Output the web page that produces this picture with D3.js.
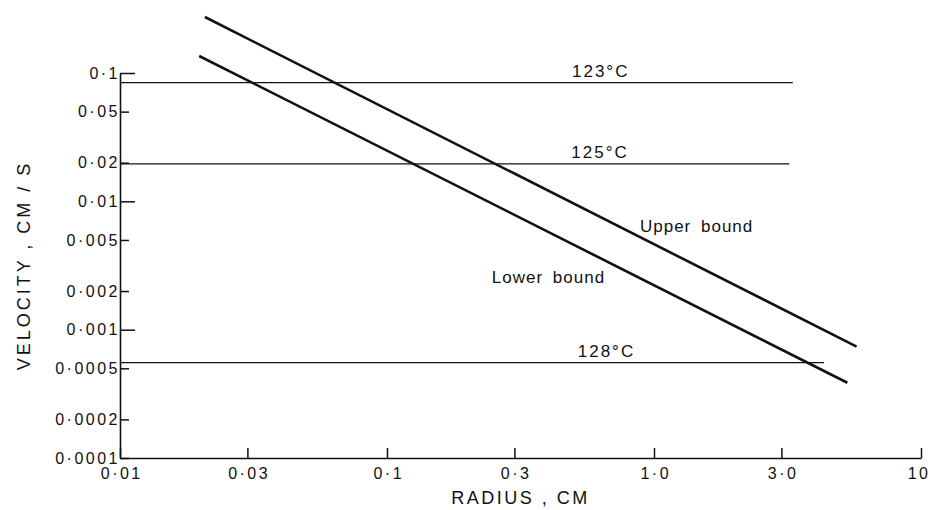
<!DOCTYPE html>
<html>
<head>
<meta charset="utf-8">
<script src="https://cdn.jsdelivr.net/npm/d3@7/dist/d3.min.js"></script>
<style>
  html, body { margin: 0; padding: 0; background: #fff; }
  svg { display: block; }
  text { font-family: "Liberation Sans", Arial, sans-serif; fill: #111; }
</style>
</head>
<body>
<svg id="chart" width="930" height="510"></svg>
<script>
// Radius (cm) and velocity (cm/s) on log–log axes
const xTickValues = [0.01, 0.03, 0.1, 0.3, 1, 3, 10];
const xTickLabels = ["0·01", "0·03", "0·1", "0·3", "1·0", "3·0", "10"];
const yTickValues = [0.1, 0.05, 0.02, 0.01, 0.005, 0.002, 0.001, 0.0005, 0.0002, 0.0001];
const yTickLabels = ["0·1", "0·05", "0·02", "0·01", "0·005", "0·002", "0·001", "0·0005", "0·0002", "0·0001"];
const yMajorTicks = [0.1, 0.01, 0.001];

// Bounds on velocity as a function of radius: [radius, velocity]
const upperBound = [[0.0208, 0.273], [5.74, 0.000737]];
const lowerBound = [[0.0198, 0.1357], [5.30, 0.000386]];

// Isotherms: constant velocity from the left edge to an end radius
const isoNames = ["123°C", "125°C", "128°C"];
const isoVelocity = [0.0840, 0.0196, 0.000553];
const isoEndRadius = [3.31, 3.21, 4.33];
const isoLabelRadius = [0.493, 0.49, 0.518];

// Line labels: [radius, velocity] anchor
const boundNames = ["Upper bound", "Lower bound"];
const boundLabelAt = [[0.886, 0.00577], [0.247, 0.00232]];

const svg = d3.select("#chart");

const x = d3.scaleLog().domain([0.01, 10]).range([120, 921]);
const y = d3.scaleLog().domain([0.0001, 0.1]).range([458, 73]);

const tickFont = 16;

// Axes
const xAxis = d3.axisBottom(x)
  .tickValues(xTickValues)
  .tickFormat((d, i) => xTickLabels[i])
  .tickSizeInner(-10).tickSizeOuter(0).tickPadding(10);

const gx = svg.append("g")
  .attr("transform", `translate(0,${y(0.0001)})`)
  .call(xAxis);
gx.select(".domain").attr("stroke", "#111").attr("stroke-width", 1.6);
gx.selectAll(".tick line").attr("stroke", "#111").attr("stroke-width", 1.5);
gx.selectAll(".tick text")
  .attr("font-size", tickFont)
  .attr("letter-spacing", "2.5px")
  .attr("dx", "1.25px")
  .style("font-family", "'Liberation Sans', Arial, sans-serif");
// the last label sits against the right edge
gx.selectAll(".tick text")
  .filter(d => d === 10)
  .attr("text-anchor", "end")
  .attr("dx", "9px");

const yAxis = d3.axisLeft(y)
  .tickValues(yTickValues)
  .tickFormat((d, i) => yTickLabels[i])
  .tickSizeInner(-9).tickSizeOuter(0).tickPadding(0);

const gy = svg.append("g")
  .attr("transform", `translate(${x(0.01)},0)`)
  .call(yAxis);
gy.select(".domain").attr("stroke", "#111").attr("stroke-width", 1.6);
gy.selectAll(".tick line")
  .attr("stroke", "#111").attr("stroke-width", 1.5)
  .attr("x2", d => yMajorTicks.includes(d) ? 15 : 9);
gy.selectAll(".tick text")
  .attr("font-size", tickFont)
  .attr("letter-spacing", "2.5px")
  .attr("x", 0)
  .style("font-family", "'Liberation Sans', Arial, sans-serif");

// Isotherm lines
const iso = isoNames.map((name, i) => ({
  name, v: isoVelocity[i], end: isoEndRadius[i], labelAt: isoLabelRadius[i]
}));

svg.append("g").selectAll("line")
  .data(iso).join("line")
  .attr("x1", x(0.01)).attr("x2", d => x(d.end))
  .attr("y1", d => y(d.v)).attr("y2", d => y(d.v))
  .attr("stroke", "#111").attr("stroke-width", 1.3);

svg.append("g").selectAll("text")
  .data(iso).join("text")
  .attr("x", d => x(d.labelAt))
  .attr("y", d => y(d.v) - 6)
  .attr("font-size", 17)
  .attr("letter-spacing", "2px")
  .text(d => d.name);

// Bound lines
const line = d3.line().x(d => x(d[0])).y(d => y(d[1]));
svg.append("g").selectAll("path")
  .data([upperBound, lowerBound]).join("path")
  .attr("d", line)
  .attr("fill", "none")
  .attr("stroke", "#111")
  .attr("stroke-width", 2.6);

svg.append("g").selectAll("text")
  .data(boundNames).join("text")
  .attr("x", (d, i) => x(boundLabelAt[i][0]))
  .attr("y", (d, i) => y(boundLabelAt[i][1]))
  .attr("font-size", 17)
  .attr("letter-spacing", "1px")
  .attr("word-spacing", "4px")
  .text(d => d);

// Axis titles
svg.append("text")
  .attr("x", (x(0.01) + x(10)) / 2)
  .attr("y", 504)
  .attr("text-anchor", "middle")
  .attr("font-size", 18)
  .attr("letter-spacing", "2.5px")
  .text("RADIUS , CM");

svg.append("text")
  .attr("transform", `translate(30,${(y(0.0001) + y(0.1)) / 2}) rotate(-90)`)
  .attr("text-anchor", "middle")
  .attr("font-size", 18)
  .attr("letter-spacing", "3px")
  .text("VELOCITY , CM / S");
</script>
</body>
</html>
